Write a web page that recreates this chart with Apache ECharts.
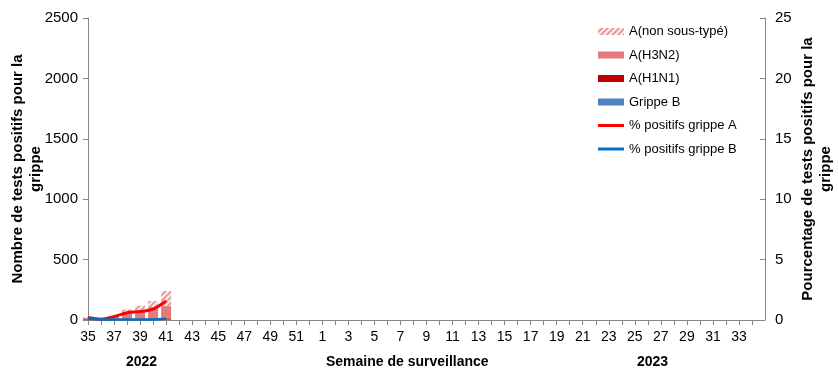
<!DOCTYPE html>
<html><head><meta charset="utf-8">
<script src="https://cdn.jsdelivr.net/npm/echarts@6/dist/echarts.min.js"></script>
<style>html,body{margin:0;padding:0;background:#fff}#c{width:838px;height:382px}</style>
</head><body><div id="c"></div>
<script>
var weeks = ['35','36','37','38','39','40','41','42','43','44','45','46','47','48','49','50','51','52',
 '1','2','3','4','5','6','7','8','9','10','11','12','13','14','15','16','17','18','19','20','21','22','23','24','25','26','27','28','29','30','31','32','33','34','35'];
var grippeB = [8,5,5,6,6,8,10];
var h1n1 = [2,1,2,3,3,4,5];
var h3n2 = [8,4,18,50,70,95,100];
var nonSousType = [6,3,10,28,40,50,125];
var pctA = [0.2,0.07,0.28,0.6,0.7,0.9,1.57];
var pctB = [0.1,0.05,0.05,0.05,0.05,0.05,0.1];
var yLeftTicks = [0,500,1000,1500,2000,2500];
var yRightTicks = [0,5,10,15,20,25];

var F = "'Liberation Sans', Arial, sans-serif";
function pad(a){ var r=a.slice(); while(r.length<weeks.length) r.push(null); return r; }
var chart = echarts.init(document.getElementById('c'), null, {renderer:'canvas'});
var barW = 10;
var lineIcon = 'path://M0,-2L0,-2M0,5L0,5M0,0H26V3H0Z';
chart.setOption({
  animation:false,
  textStyle:{fontFamily:F},
  grid:{left:88,right:73,top:18,bottom:62,containLabel:false,outerBoundsMode:'none'},
  legend:{
    orient:'vertical', left:598, top:25, padding:0, itemGap:10.5,
    itemWidth:26, itemHeight:7,
    textStyle:{fontFamily:F,fontSize:13,color:'#000'},
    data:[{name:'A(non sous-typé)',icon:'rect'},{name:'A(H3N2)',icon:'rect'},{name:'A(H1N1)',icon:'rect'},{name:'Grippe B',icon:'rect'},
      {name:'% positifs grippe A',icon:lineIcon},{name:'% positifs grippe B',icon:lineIcon}]
  },
  xAxis:{
    type:'category', data:weeks, boundaryGap:false,
    axisLine:{lineStyle:{color:'#868686',width:1}},
    axisTick:{interval:0,length:5,lineStyle:{color:'#868686'}},
    axisLabel:{interval:1,color:'#000',fontSize:14,fontFamily:F,margin:10,showMaxLabel:false}
  },
  yAxis:[{
    type:'value', min:yLeftTicks[0], max:yLeftTicks[yLeftTicks.length-1], interval:500,
    name:'Nombre de tests positifs pour la\ngrippe', nameLocation:'middle', nameRotate:90, nameGap:43, nameMoveOverlap:false,
    nameTextStyle:{fontFamily:F,fontSize:15,fontWeight:'bold',color:'#000',lineHeight:18},
    axisLine:{show:true,lineStyle:{color:'#868686'}},
    axisTick:{show:true,length:5,lineStyle:{color:'#868686'}},
    axisLabel:{color:'#000',fontSize:15,fontFamily:F,margin:10,formatter:function(v){return String(v);}},
    splitLine:{show:false}
  },{
    type:'value', min:yRightTicks[0], max:yRightTicks[yRightTicks.length-1], interval:5,
    name:'Pourcentage de tests positifs pour la\ngrippe', nameLocation:'middle', nameRotate:90, nameGap:34, nameMoveOverlap:false,
    nameTextStyle:{fontFamily:F,fontSize:15,fontWeight:'bold',color:'#000',lineHeight:18},
    axisLine:{show:true,lineStyle:{color:'#868686'}},
    axisTick:{show:true,inside:true,length:5,lineStyle:{color:'#868686'}},
    axisLabel:{color:'#000',fontSize:15,fontFamily:F,margin:10,formatter:function(v){return String(v);}},
    splitLine:{show:false}
  }],
  series:[
    {name:'Grippe B',type:'bar',stack:'n',data:pad(grippeB),barWidth:barW,itemStyle:{color:'#4f81bd'}},
    {name:'A(H1N1)',type:'bar',stack:'n',data:pad(h1n1),barWidth:barW,itemStyle:{color:'#c00000'}},
    {name:'A(H3N2)',type:'bar',stack:'n',data:pad(h3n2),barWidth:barW,itemStyle:{color:'#e57a7a'}},
    {name:'A(non sous-typé)',type:'bar',stack:'n',data:pad(nonSousType),barWidth:barW,
      itemStyle:{color:'#e49a9a',decal:{symbol:'rect',dashArrayX:[1,0],dashArrayY:[2,2],rotation:-Math.PI/4,color:'rgba(255,255,255,0.85)'}}},
    {name:'% positifs grippe A',type:'line',yAxisIndex:1,data:pad(pctA),symbol:'none',showSymbol:false,smooth:0.3,
      lineStyle:{color:'#ff0000',width:3},itemStyle:{color:'#ff0000'}},
    {name:'% positifs grippe B',type:'line',yAxisIndex:1,data:pad(pctB),symbol:'none',showSymbol:false,smooth:0.3,
      lineStyle:{color:'#0070c0',width:2.5},itemStyle:{color:'#0070c0'}}
  ],
  graphic:[
    {type:'text',left:126,top:355,style:{text:'2022',font:"bold 14px "+F,fill:'#000'}},
    {type:'text',left:326,top:355,style:{text:'Semaine de surveillance',font:"bold 14px "+F,fill:'#000'}},
    {type:'text',left:637,top:355,style:{text:'2023',font:"bold 14px "+F,fill:'#000'}}
  ]
});
</script></body></html>
